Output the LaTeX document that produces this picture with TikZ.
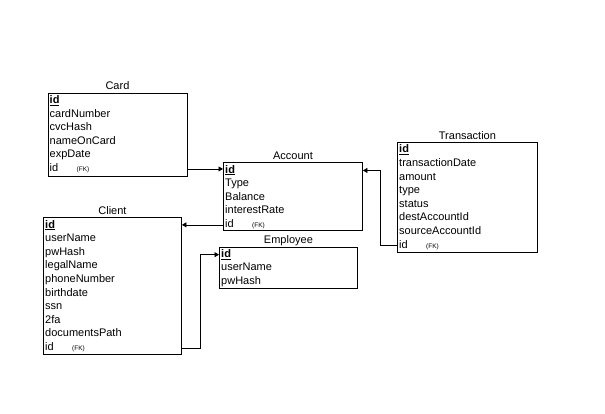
\documentclass[tikz,border=0pt]{standalone}
\usepackage{fontspec}
\setmainfont{Liberation Sans}
\usetikzlibrary{arrows.meta}

\tikzset{
  entity/.style={draw=black, line width=0.9pt, rectangle, inner sep=0pt, anchor=north west},
  tablename/.style={anchor=base, inner sep=0pt, font=\fontsize{11}{13}\selectfont},
  field/.style={anchor=base west, inner sep=0pt, font=\fontsize{11}{13}\selectfont},
  fklink/.style={draw=black, line width=0.7pt, -{Triangle[length=4.5pt,width=5pt]}}
}
\newcommand{\pkey}{\underline{\textbf{id}}}
\newcommand{\fkey}{\makebox[27pt][l]{id}{\fontsize{6.5}{7}\selectfont(FK)}}

\begin{document}
\begin{tikzpicture}[x=1pt,y=-1pt]
                \useasboundingbox (0,0) rectangle (605,414);

                % Card
                \node[entity, minimum width=139pt, minimum height=83pt] (card) at (47.5,93) {};
                \node[tablename] (cardname) at ([yshift=3pt]card.north) {Card};
                \node[field] (card1) at (49.5,103.6) {\pkey};
                \node[field] (card2) at (49.5,117.2) {cardNumber};
                \node[field] (card3) at (49.5,130.8) {cvcHash};
                \node[field] (card4) at (49.5,144.4) {nameOnCard};
                \node[field] (card5) at (49.5,158.0) {expDate};
                \node[field] (card6) at (49.5,171.6) {\fkey};

                % Account
                \node[entity, minimum width=139pt, minimum height=68pt] (account) at (223,162.5) {};
                \node[tablename] (accountname) at ([yshift=3pt]account.north) {Account};
                \node[field] (account1) at (225,173.1) {\pkey};
                \node[field] (account2) at (225,186.7) {Type};
                \node[field] (account3) at (225,200.3) {Balance};
                \node[field] (account4) at (225,213.9) {interestRate};
                \node[field] (account5) at (225,227.5) {\fkey};

                % Transaction
                \node[entity, minimum width=140pt, minimum height=110pt] (transaction) at (397,142.3) {};
                \node[tablename] (transactionname) at ([yshift=3pt]transaction.north) {Transaction};
                \node[field] (transaction1) at (399,152.9) {\pkey};
                \node[field] (transaction2) at (399,166.5) {transactionDate};
                \node[field] (transaction3) at (399,180.1) {amount};
                \node[field] (transaction4) at (399,193.7) {type};
                \node[field] (transaction5) at (399,207.3) {status};
                \node[field] (transaction6) at (399,220.9) {destAccountId};
                \node[field] (transaction7) at (399,234.5) {sourceAccountId};
                \node[field] (transaction8) at (399,248.1) {\fkey};

                % Client
                \node[entity, minimum width=138pt, minimum height=136pt] (client) at (43,217.5) {};
                \node[tablename] (clientname) at ([yshift=3pt]client.north) {Client};
                \node[field] (client1) at (45,228.1) {\pkey};
                \node[field] (client2) at (45,241.7) {userName};
                \node[field] (client3) at (45,255.3) {pwHash};
                \node[field] (client4) at (45,268.9) {legalName};
                \node[field] (client5) at (45,282.5) {phoneNumber};
                \node[field] (client6) at (45,296.1) {birthdate};
                \node[field] (client7) at (45,309.7) {ssn};
                \node[field] (client8) at (45,323.3) {2fa};
                \node[field] (client9) at (45,336.9) {documentsPath};
                \node[field] (client10) at (45,350.5) {\fkey};

                % Employee
                \node[entity, minimum width=138pt, minimum height=41pt] (employee) at (219,246.7) {};
                \node[tablename] (employeename) at ([yshift=3pt]employee.north) {Employee};
                \node[field] (employee1) at (221,257.3) {\pkey};
                \node[field] (employee2) at (221,270.9) {userName};
                \node[field] (employee3) at (221,284.5) {pwHash};

                % foreign keys
                \draw[fklink] (card6.mid -| card.east) -- (card6.mid -| account.west);
                \draw[fklink] (account5.mid -| account.west) -- (account5.mid -| client.east);
                \draw[fklink] (transaction8.mid -| transaction.west) -- ++(-17,0) |- (account1.mid -| account.east);
                \draw[fklink] (client10.mid -| client.east) -- ++(18,0) |- (employee1.mid -| employee.west);
            \end{tikzpicture}
\end{document}
